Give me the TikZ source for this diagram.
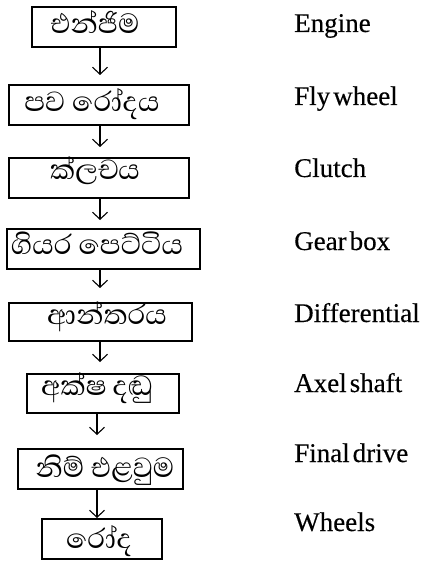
\documentclass[tikz,border=0pt]{standalone}
\usepackage{fontspec}
\setmainfont{Liberation Serif}[WordSpace=0.45, FakeBold=0.3]
\newfontfamily\sinfont[Script=Sinhala]{Abhaya Libre}
\usetikzlibrary{arrows.meta}
\tikzset{
  box/.style={draw, line width=1.6pt, inner sep=0pt},
  sin/.style={anchor=base, inner sep=0pt, font=\sinfont\fontsize{35.5}{38}\selectfont},
  arr/.style={line width=1.1pt, -{Straight Barb[length=7pt,width=15pt,line width=1.1pt]}},
  eng/.style={anchor=base west, inner sep=0pt, font=\fontsize{27}{30}\selectfont}
}
\begin{document}
\begin{tikzpicture}[x=1pt,y=-1pt]
\useasboundingbox (0,0) rectangle (426,561);
\node[box, minimum width=144pt, minimum height=40pt] (b1) at (104,27) {};
\node[box, minimum width=180pt, minimum height=40pt] (b2) at (99,105) {};
\node[box, minimum width=180pt, minimum height=40pt] (b3) at (99,178) {};
\node[box, minimum width=193pt, minimum height=40pt] (b4) at (103.5,249) {};
\node[box, minimum width=183pt, minimum height=38pt] (b5) at (100.5,322) {};
\node[box, minimum width=152pt, minimum height=39pt] (b6) at (103,393.5) {};
\node[box, minimum width=165pt, minimum height=40pt] (b7) at (100.5,469) {};
\node[box, minimum width=120pt, minimum height=40pt] (b8) at (102,539) {};
\node[sin] (s1) at (95,34) {එන්ජිම};
\node[sin] (s2) at (92,112) {පව රෝදය};
\node[sin] (s3) at (95,180) {ක්ලචය};
\node[sin] (s4) at (97,254) {ගියර පෙට්ටිය};
\node[sin] (s5) at (107,324) {ආන්තරය};
\node[sin] (s6) at (97,395) {අක්ෂ දඬු};
\node[sin] (s7) at (105,477) {නිම් එළවුම};
\node[sin] (s8) at (99,548) {රෝද};
\coordinate (t1) at (100,75);
\coordinate (t2) at (100,147);
\coordinate (t3) at (100,220);
\coordinate (t4) at (100,288);
\coordinate (t5) at (100,362);
\coordinate (t6) at (97,435);
\coordinate (t7) at (97,518);
\draw[arr] (b1.south -| t1) -- (t1);
\draw[arr] (b2.south -| t2) -- (t2);
\draw[arr] (b3.south -| t3) -- (t3);
\draw[arr] (b4.south -| t4) -- (t4);
\draw[arr] (b5.south -| t5) -- (t5);
\draw[arr] (b6.south -| t6) -- (t6);
\draw[arr] (b7.south -| t7) -- (t7);
\node[eng] (e1) at (294,32) {Engine};
\node[eng] (e2) at (294,105) {Fly wheel};
\node[eng] (e3) at (294,177) {Clutch};
\node[eng] (e4) at (294,250) {Gear box};
\node[eng] (e5) at (294,322) {Differential};
\node[eng] (e6) at (294,392) {Axel shaft};
\node[eng] (e7) at (294,462) {Final drive};
\node[eng] (e8) at (294,531) {Wheels};
\end{tikzpicture}
\end{document}
